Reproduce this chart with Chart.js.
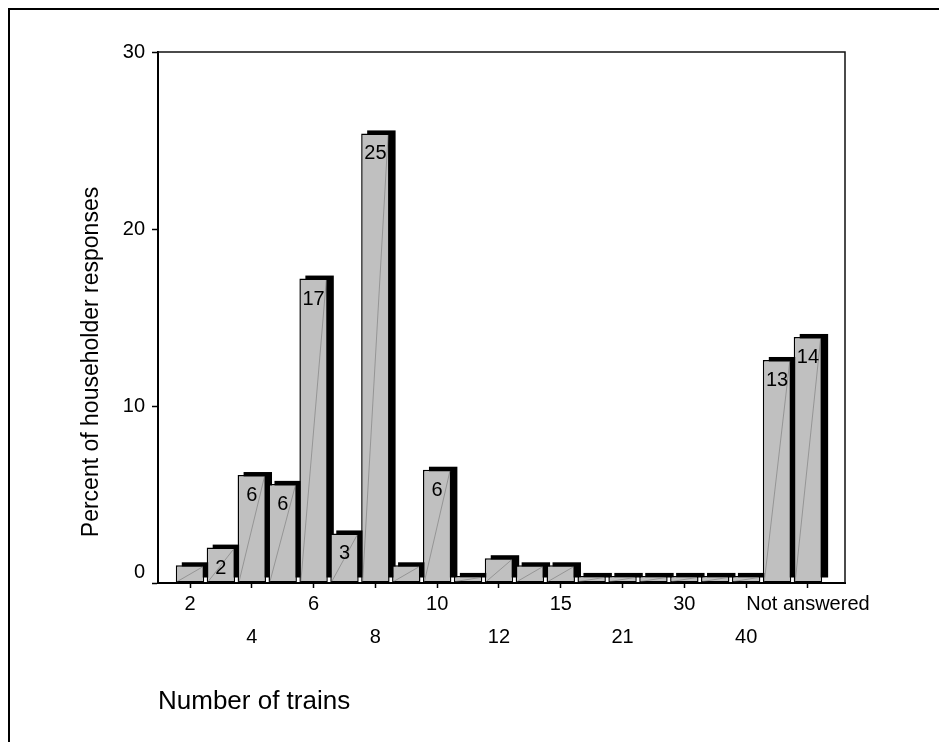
<!DOCTYPE html>
<html>
<head>
<meta charset="utf-8">
<title>Number of trains</title>
<script src="https://cdn.jsdelivr.net/npm/chart.js@4"></script>
<style>
  html, body { margin: 0; padding: 0; background: #fff; }
  #wrap { width: 939px; height: 742px; position: relative; }
</style>
</head>
<body>
<div id="wrap"><canvas id="chart" width="939" height="742"></canvas></div>
<script>
// Percent of householder responses for each reported number of trains
const percents = [1.0, 2.0, 6.1, 5.6, 17.2, 2.8, 25.4, 1.0, 6.4, 0.4, 1.4, 1.0, 1.0, 0.4, 0.4, 0.4, 0.4, 0.4, 0.4, 12.6, 13.9];
// Category labels printed under every second bar, alternating between two rows
const tickLabels = ['2', '4', '6', '8', '10', '12', '15', '21', '30', '40', 'Not answered'];
const yTicks = [0, 10, 20, 30];
const xTitle = 'Number of trains';
const yTitle = 'Percent of householder responses';

const FONT = "'Liberation Sans', Arial, Helvetica, sans-serif";
Chart.defaults.font.family = FONT;
Chart.defaults.color = '#000';

// one bar per category, placed at positions 1..n on the x axis
const points = percents.map((v, i) => ({ x: i + 1, y: v }));

const decor = {
  id: 'decor',
  beforeDraw(chart) {
    // page frame along the top and left edges
    const ctx = chart.ctx;
    ctx.save();
    ctx.strokeStyle = '#000';
    ctx.lineWidth = 2;
    ctx.beginPath();
    ctx.moveTo(9, chart.height);
    ctx.lineTo(9, 9);
    ctx.lineTo(chart.width, 9);
    ctx.stroke();
    ctx.restore();
  },
  beforeDatasetsDraw(chart) {
    // solid drop shadow behind each bar, offset up and to the right
    const ctx = chart.ctx;
    const meta = chart.getDatasetMeta(0);
    ctx.save();
    ctx.fillStyle = '#000';
    meta.data.forEach(bar => {
      const { x, y, base, width } = bar.getProps(['x', 'y', 'base', 'width'], true);
      const left = x - width / 2 + 6;
      const top = y - 3;
      ctx.fillRect(left, top, width, (base - 5) - top);
    });
    ctx.restore();
  },
  afterDatasetsDraw(chart) {
    const ctx = chart.ctx;
    const meta = chart.getDatasetMeta(0);
    const bw = 1.5;
    ctx.save();
    meta.data.forEach((bar, i) => {
      const { x, y, base, width } = bar.getProps(['x', 'y', 'base', 'width'], true);
      // faint diagonal across the bar face
      ctx.strokeStyle = 'rgba(110,110,110,0.75)';
      ctx.lineWidth = 0.7;
      ctx.beginPath();
      ctx.moveTo(x - width / 2 + bw, base - 1);
      ctx.lineTo(x + width / 2 - bw, y + bw);
      ctx.stroke();
      // rounded value near the top of the taller bars
      const v = percents[i];
      if (v >= 1.5) {
        ctx.fillStyle = '#000';
        ctx.font = '20px ' + FONT;
        ctx.textAlign = 'center';
        ctx.textBaseline = 'middle';
        ctx.fillText(String(Math.round(v)), x, y + 20.5);
      }
    });
    ctx.restore();
  },
  afterDraw(chart) {
    const { ctx, chartArea: a } = chart;
    ctx.save();
    // thin top and right edges of the plot box
    ctx.strokeStyle = '#111';
    ctx.lineWidth = 1.5;
    ctx.beginPath();
    ctx.moveTo(a.left, a.top);
    ctx.lineTo(a.right, a.top);
    ctx.lineTo(a.right, a.bottom);
    ctx.stroke();
    // vertical axis title
    ctx.translate(98, 362);
    ctx.rotate(-Math.PI / 2);
    ctx.font = '23px ' + FONT;
    ctx.fillStyle = '#000';
    ctx.textAlign = 'center';
    ctx.textBaseline = 'alphabetic';
    ctx.fillText(yTitle, 0, 0);
    ctx.restore();
  }
};

new Chart(document.getElementById('chart'), {
  type: 'bar',
  data: {
    datasets: [{
      data: points,
      backgroundColor: '#c0c0c0',
      borderColor: '#000',
      borderWidth: 1.5,
      borderSkipped: false,
      barPercentage: 0.92,
      categoryPercentage: 1.0
    }]
  },
  options: {
    responsive: false,
    devicePixelRatio: 1,
    animation: false,
    layout: { padding: { top: 52, right: 94, bottom: 0, left: 0 } },
    plugins: {
      legend: { display: false },
      tooltip: { enabled: false }
    },
    scales: {
      x: {
        type: 'linear',
        min: -0.036,
        max: 22.2,
        offset: false,
        afterBuildTicks: s => { s.ticks = tickLabels.map((_, k) => ({ value: 2 * k + 1 })); },
        afterFit: s => { s.height = 742 - 583; },
        border: { display: true, color: '#000', width: 2 },
        grid: { display: true, drawOnChartArea: false, drawTicks: true, tickLength: 5, tickColor: '#000', tickWidth: 1.5, offset: false },
        ticks: {
          autoSkip: false, maxRotation: 0, minRotation: 0, padding: 0, color: '#000',
          font: { size: 20, lineHeight: 1.65 },
          callback: (v, k) => (k % 2 ? ['', tickLabels[k]] : tickLabels[k])
        },
        title: {
          display: true, text: xTitle, align: 'start', color: '#000',
          font: { size: 26, lineHeight: 1.2 },
          padding: { top: 0, bottom: 24.4 }
        }
      },
      y: {
        min: 0,
        max: 30,
        afterBuildTicks: s => { s.ticks = yTicks.map(v => ({ value: v })); },
        afterFit: s => { s.width = 158; },
        border: { display: true, color: '#000', width: 2 },
        grid: { display: true, drawOnChartArea: false, drawTicks: true, tickLength: 6, tickColor: '#000', tickWidth: 1.5 },
        ticks: {
          padding: 7, color: '#000',
          font: { size: 20, lineHeight: 1.1 },
          callback: v => (v === 0 ? ['0', ''] : String(v))
        }
      }
    }
  },
  plugins: [decor]
});
</script>
</body>
</html>
